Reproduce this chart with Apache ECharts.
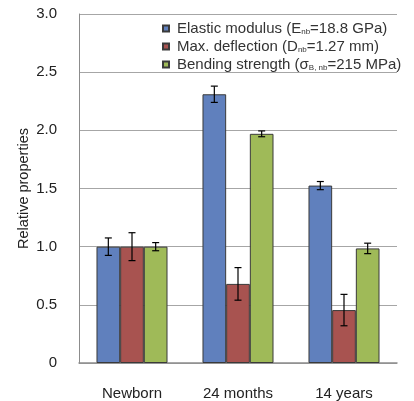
<!DOCTYPE html>
<html>
<head>
<meta charset="utf-8">
<script src="https://cdn.jsdelivr.net/npm/echarts@6/dist/echarts.min.js"></script>
<style>
  html, body { margin: 0; padding: 0; background: #fff; }
  #chart { width: 414px; height: 401px; }
</style>
</head>
<body>
<div id="chart"></div>
<script>
const categories = ["Newborn", "24 months", "14 years"];
const seriesNames = ["Elastic modulus", "Max. deflection", "Bending strength"];
const modulus = [1.0, 2.31, 1.525];
const modulusErr = [0.075, 0.07, 0.035];
const deflection = [1.0, 0.68, 0.455];
const deflectionErr = [0.12, 0.14, 0.135];
const strength = [1.0, 1.97, 0.985];
const strengthErr = [0.035, 0.025, 0.045];
const yTicks = [0, 0.5, 1.0, 1.5, 2.0, 2.5, 3.0];

const colors = ["#6080BD", "#A85350", "#9FBA58"];
const values = [modulus, deflection, strength];
const errors = [modulusErr, deflectionErr, strengthErr];
const legendText = {
  "Elastic modulus": "Elastic modulus (E{sub|nb}=18.8 GPa)",
  "Max. deflection": "Max. deflection (D{sub|nb}=1.27 mm)",
  "Bending strength": "Bending strength (σ{sub|B, nb}=215 MPa)",
};
const catGap = 0.33;

const chart = echarts.init(document.getElementById("chart"));

const barSeries = seriesNames.map((name, i) => ({
  name: name,
  type: "bar",
  data: values[i],
  barGap: "0%",
  barCategoryGap: catGap * 100 + "%",
  itemStyle: { color: colors[i], borderColor: "#3a3a3a", borderWidth: 1 },
  z: 2,
}));

// error bars drawn next to each bar
const errSeries = seriesNames.map((name, i) => ({
  name: name + " err",
  type: "custom",
  data: values[i].map((v, k) => [k, v - errors[i][k], v + errors[i][k]]),
  z: 5,
  renderItem: function (params, api) {
    const k = api.value(0);
    const lo = api.coord([k, api.value(1)]);
    const hi = api.coord([k, api.value(2)]);
    const band = api.size([1, 0])[0];
    const bw = (band * (1 - catGap)) / 3;
    const x = lo[0] + (i - 1) * bw;
    const cap = 3.5;
    const style = { stroke: "#000", lineWidth: 1.2 };
    return {
      type: "group",
      children: [
        { type: "line", shape: { x1: x, y1: lo[1], x2: x, y2: hi[1] }, style: style },
        { type: "line", shape: { x1: x - cap, y1: lo[1], x2: x + cap, y2: lo[1] }, style: style },
        { type: "line", shape: { x1: x - cap, y1: hi[1], x2: x + cap, y2: hi[1] }, style: style },
      ],
    };
  },
}));

chart.setOption({
  animation: false,
  textStyle: { fontFamily: "Liberation Sans, Arial, sans-serif" },
  grid: { left: 79, right: 17, top: 14, bottom: 37 },
  legend: {
    data: seriesNames,
    orient: "vertical",
    left: 157,
    top: 16,
    icon: "rect",
    itemWidth: 6,
    itemHeight: 6,
    itemGap: 3,
    textStyle: {
      fontSize: 15,
      color: "#333",
      padding: [0, 0, 0, 3],
      rich: {
        sub: { fontSize: 8, color: "#333", verticalAlign: "bottom", padding: [7, 0, 0, 0] },
      },
    },
    formatter: (n) => legendText[n],
  },
  xAxis: {
    type: "category",
    data: categories,
    axisLine: { lineStyle: { color: "#8c8c8c", width: 1.5 } },
    axisTick: { show: false },
    axisLabel: { color: "#222", fontSize: 15, margin: 23 },
  },
  yAxis: {
    type: "value",
    min: yTicks[0],
    max: yTicks[yTicks.length - 1],
    interval: 0.5,
    name: "Relative properties",
    nameLocation: "middle",
    nameGap: 48,
    nameMoveOverlap: false,
    nameTextStyle: { color: "#222", fontSize: 14.5 },
    axisLine: { show: true, lineStyle: { color: "#8c8c8c" } },
    axisTick: { show: false },
    axisLabel: {
      color: "#222",
      fontSize: 15,
      margin: 22,
      formatter: (v) => (v === 0 ? "0" : v.toFixed(1)),
    },
    splitLine: { lineStyle: { color: "#a6a6a6", width: 1 } },
  },
  series: barSeries.concat(errSeries),
});
</script>
</body>
</html>
